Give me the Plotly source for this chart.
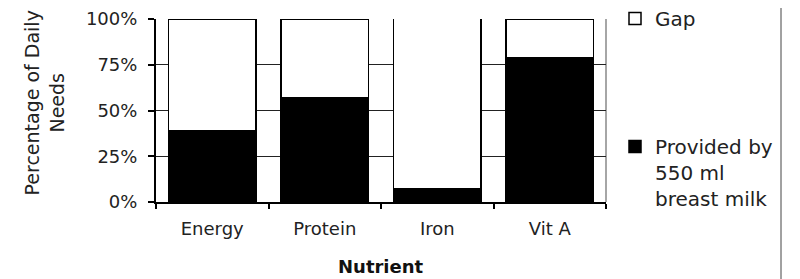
import plotly.graph_objects as go

categories = ["Energy", "Protein", "Iron", "Vit A"]
provided = [0.39, 0.57, 0.07, 0.79]
gap = [0.61, 0.43, 0.945, 0.21]
y_ticks = [0, 0.25, 0.5, 0.75, 1.0]
y_tick_text = ["0%", "25%", "50%", "75%", "100%"]

FONT = "DejaVu Sans"

fig = go.Figure()
fig.add_trace(go.Bar(
    x=categories, y=provided, name="Provided by<br>550 ml<br>breast milk",
    marker=dict(color="black", line=dict(color="black", width=1.5)),
    legend="legend2", cliponaxis=False, showlegend=True,
))
fig.add_trace(go.Bar(
    x=categories, y=gap, name="Gap",
    marker=dict(color="white", line=dict(color="black", width=1.5)),
    legend="legend", cliponaxis=False, showlegend=True,
))

fig.update_layout(
    barmode="stack",
    bargap=0.22,
    showlegend=True,
    width=792, height=271,
    margin=dict(l=148, r=194, t=11, b=77, autoexpand=False),
    paper_bgcolor="white", plot_bgcolor="white",
    font=dict(family=FONT, size=18, color="#222"),
    legend=dict(x=1.02, y=1.109, xanchor="left", yanchor="top",
                font=dict(family=FONT, size=20, color="#222"),
                bgcolor="rgba(0,0,0,0)", valign="top", visible=True),
    legend2=dict(x=1.02, y=0.41, xanchor="left", yanchor="top",
                 font=dict(family=FONT, size=20, color="#222"),
                 bgcolor="rgba(0,0,0,0)", valign="top", visible=True),
    xaxis=dict(showline=True, linecolor="black", linewidth=1.5,
               ticks="outside", tickson="boundaries", ticklen=5,
               tickcolor="black", tickwidth=1.5, showgrid=False,
               ticklabelstandoff=10,
               tickfont=dict(family=FONT, size=18, color="#222")),
    yaxis=dict(range=[0, 1], tickvals=y_ticks, ticktext=y_tick_text,
               showline=True, linecolor="black", linewidth=2,
               ticks="outside", ticklen=6, tickcolor="black", tickwidth=1.5,
               showgrid=True, gridcolor="#222", gridwidth=1, zeroline=False,
               ticklabelstandoff=7,
               tickfont=dict(family=FONT, size=18, color="#222")),
    shapes=[
        dict(type="line", xref="paper", yref="paper", x0=1, x1=1, y0=0, y1=1,
             line=dict(color="#888", width=1.5), layer="below"),
        dict(type="line", xref="paper", yref="paper", x0=1.3889, x1=1.3889,
             y0=-0.4208, y1=1.06, line=dict(color="#444", width=1)),
    ],
    annotations=[
        dict(text="Percentage of Daily<br>Needs", xref="paper", yref="paper",
             x=-0.2456, y=0.541, xanchor="center", yanchor="middle",
             textangle=-90, showarrow=False,
             font=dict(family=FONT, size=19, color="#222")),
        dict(text="<b>Nutrient</b>", xref="paper", yref="paper",
             x=0.5, y=-0.35, xanchor="center", yanchor="middle",
             showarrow=False, font=dict(family=FONT, size=18, color="#111")),
    ],
)

fig.write_html("out.html")
